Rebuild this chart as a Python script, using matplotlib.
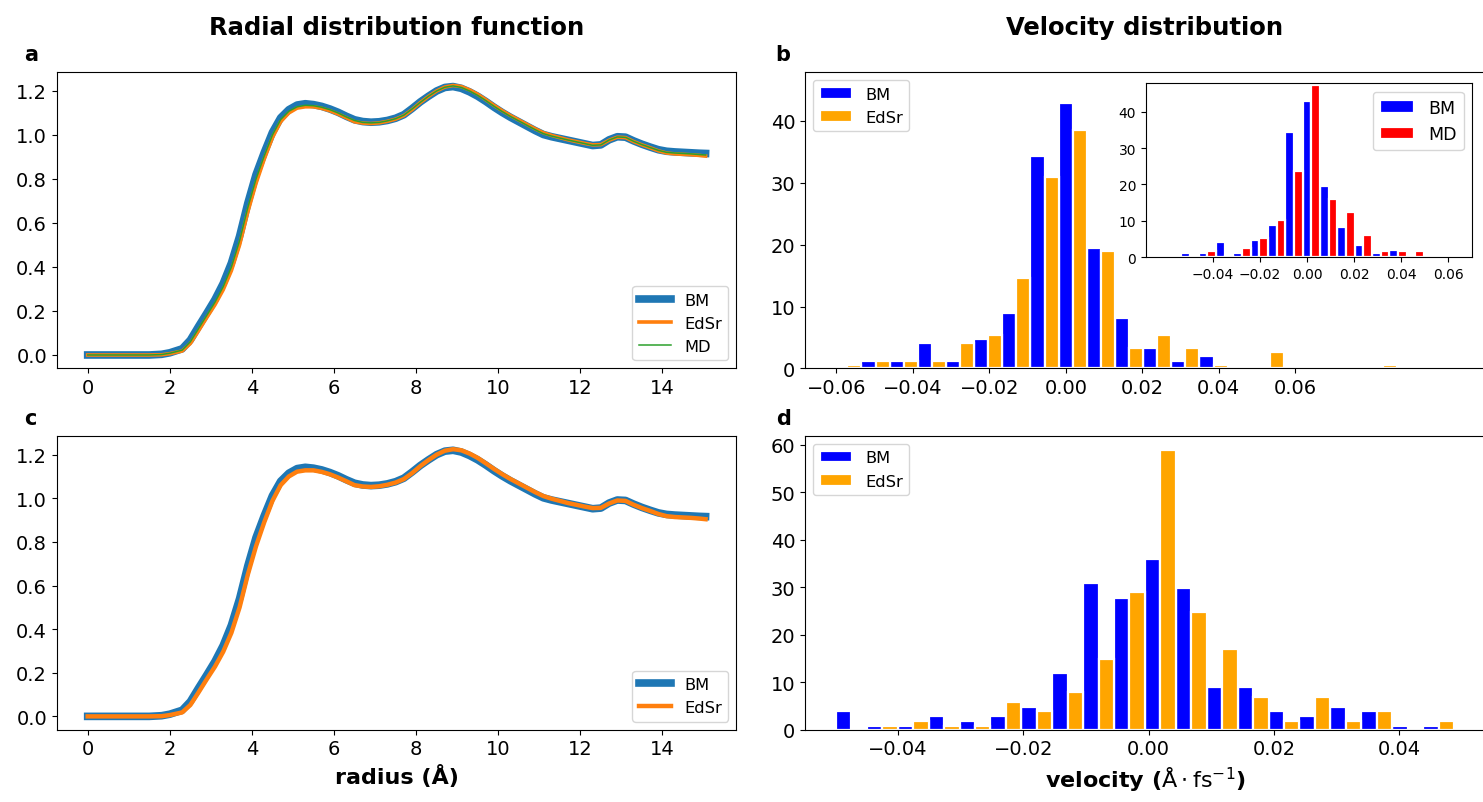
import numpy as np
import matplotlib.pyplot as plt

# radial distribution function g(r)
radius = [0.0, 0.5, 1.0, 1.5, 1.8, 2.0, 2.3, 2.5, 2.7, 2.9,
          3.1, 3.3, 3.5, 3.7, 3.9, 4.1, 4.3, 4.5, 4.7, 4.9,
          5.1, 5.3, 5.5, 5.7, 5.9, 6.1, 6.3, 6.5, 6.7, 6.9,
          7.1, 7.3, 7.5, 7.7, 7.9, 8.1, 8.3, 8.5, 8.7, 8.9,
          9.1, 9.3, 9.5, 9.7, 9.9, 10.1, 10.3, 10.5, 10.7, 10.9,
          11.1, 11.3, 11.5, 11.7, 11.9, 12.1, 12.3, 12.5, 12.7, 12.9,
          13.1, 13.3, 13.5, 13.7, 13.9, 14.1, 14.3, 14.5, 14.7, 14.9, 15.05]
rdf_bm = [0.000, 0.000, 0.000, 0.000, 0.003, 0.010, 0.028, 0.068, 0.130, 0.190,
          0.252, 0.325, 0.418, 0.540, 0.690, 0.820, 0.920, 1.012, 1.078, 1.115,
          1.136, 1.142, 1.138, 1.130, 1.118, 1.103, 1.085, 1.069, 1.061, 1.058,
          1.060, 1.066, 1.076, 1.092, 1.120, 1.150, 1.176, 1.200, 1.216, 1.220,
          1.212, 1.196, 1.176, 1.152, 1.126, 1.102, 1.080, 1.060, 1.040, 1.020,
          1.002, 0.992, 0.984, 0.976, 0.968, 0.960, 0.952, 0.955, 0.978, 0.992,
          0.990, 0.973, 0.958, 0.945, 0.933, 0.926, 0.923, 0.921, 0.919, 0.917, 0.916]
rdf_edsr = [0.000, 0.000, 0.000, 0.000, 0.001, 0.006, 0.018, 0.052, 0.110, 0.170,
            0.228, 0.296, 0.383, 0.500, 0.650, 0.780, 0.890, 0.988, 1.060, 1.100,
            1.122, 1.128, 1.128, 1.121, 1.110, 1.095, 1.078, 1.060, 1.054, 1.052,
            1.055, 1.062, 1.072, 1.088, 1.115, 1.147, 1.175, 1.200, 1.218, 1.225,
            1.220, 1.205, 1.185, 1.160, 1.134, 1.110, 1.088, 1.068, 1.048, 1.028,
            1.010, 0.998, 0.988, 0.978, 0.970, 0.962, 0.955, 0.956, 0.976, 0.990,
            0.988, 0.970, 0.955, 0.942, 0.928, 0.918, 0.914, 0.912, 0.910, 0.907, 0.904]
rdf_md = [0.000, 0.000, 0.000, 0.000, 0.002, 0.008, 0.022, 0.060, 0.120, 0.180,
          0.240, 0.310, 0.400, 0.520, 0.670, 0.800, 0.905, 1.000, 1.070, 1.108,
          1.128, 1.135, 1.133, 1.126, 1.115, 1.100, 1.082, 1.066, 1.057, 1.055,
          1.057, 1.064, 1.074, 1.090, 1.118, 1.148, 1.176, 1.200, 1.217, 1.223,
          1.216, 1.200, 1.180, 1.156, 1.130, 1.106, 1.084, 1.064, 1.044, 1.024,
          1.006, 0.995, 0.986, 0.977, 0.969, 0.961, 0.953, 0.955, 0.977, 0.991,
          0.989, 0.971, 0.956, 0.943, 0.930, 0.921, 0.918, 0.916, 0.914, 0.911, 0.909]

# velocity histograms, 20 bins each
vel_range_b = (-0.0608, 0.0865)
hist_b_bm = [0, 1.13, 1.13, 4.04, 1.13, 4.68, 8.94, 34.4, 42.9, 19.5,
             8.2, 3.3, 1.13, 1.94, 0, 0, 0, 0, 0, 0]
hist_b_edsr = [0.48, 1.13, 1.13, 1.13, 4.04, 5.44, 14.6, 30.9, 38.6, 18.9,
               3.3, 5.44, 3.3, 0.48, 0, 2.6, 0, 0, 0, 0.48]
hist_b_md = [0, 0.3, 1.65, 0.3, 2.5, 5.3, 10.3, 23.8, 47.3, 16.0,
             12.4, 6.0, 1.75, 1.75, 1.75, 0, 0, 0, 0, 0]

vel_range_d = (-0.0499, 0.0487)
hist_d_bm = [3.85, 0.85, 0.85, 2.9, 1.8, 2.9, 4.8, 11.9, 30.8, 27.8,
             35.9, 29.8, 8.9, 8.9, 3.85, 2.87, 4.8, 3.85, 0.85, 0.85]
hist_d_edsr = [0, 0.85, 1.8, 0.85, 0.85, 5.9, 3.85, 7.9, 14.85, 28.9,
               58.9, 24.8, 16.9, 6.85, 1.8, 6.85, 1.8, 3.85, 0, 1.8]

plt.rcParams['font.size'] = 14

fig = plt.figure(figsize=(14.83, 8.03), dpi=100)
ax_a = fig.add_axes([0.0383, 0.5399, 0.4583, 0.3692])
ax_c = fig.add_axes([0.0383, 0.0900, 0.4583, 0.3660])
ax_b = fig.add_axes([0.5428, 0.5399, 0.4585, 0.3692])
ax_d = fig.add_axes([0.5428, 0.0900, 0.4585, 0.3660])
ax_in = fig.add_axes([0.7726, 0.6787, 0.2202, 0.2167])


def hist_pair(ax, vrange, first, second, colors, labels):
    edges = np.linspace(vrange[0], vrange[1], len(first) + 1)
    centers = (edges[:-1] + edges[1:]) / 2
    ax.hist([centers, centers], bins=edges, weights=[first, second],
            color=colors, label=labels, rwidth=1.0,
            edgecolor='white', linewidth=1.6)


# RDF panels
ax_a.plot(radius, rdf_bm, lw=5.5, label='BM')
ax_a.plot(radius, rdf_edsr, lw=2.6, label='EdSr')
ax_a.plot(radius, rdf_md, lw=1.1, label='MD')
ax_a.legend(loc='lower right', fontsize='small')

ax_c.plot(radius, rdf_bm, lw=5.5, label='BM')
ax_c.plot(radius, rdf_edsr, lw=3.2, label='EdSr')
ax_c.legend(loc='lower right', fontsize='small')
ax_c.set_xlabel('radius (Å)', fontweight='bold', fontsize=16)

# velocity panels
hist_pair(ax_b, vel_range_b, hist_b_bm, hist_b_edsr, ['blue', 'orange'], ['BM', 'EdSr'])
ax_b.set_xlim(-0.0682, 0.1096)
ax_b.set_ylim(0, 47.9)
ax_b.set_xticks([-0.06, -0.04, -0.02, 0.0, 0.02, 0.04, 0.06])
ax_b.legend(loc='upper left', fontsize='small')

hist_pair(ax_in, vel_range_b, hist_b_bm, hist_b_md, ['blue', 'red'], ['BM', 'MD'])
ax_in.set_xlim(-0.0686, 0.0703)
ax_in.set_ylim(0, 47.9)
ax_in.set_xticks([-0.04, -0.02, 0.0, 0.02, 0.04, 0.06])
ax_in.set_yticks([0, 10, 20, 30, 40])
ax_in.tick_params(labelsize=10)
ax_in.legend(loc='upper right', fontsize=12.5)

hist_pair(ax_d, vel_range_d, hist_d_bm, hist_d_edsr, ['blue', 'orange'], ['BM', 'EdSr'])
ax_d.legend(loc='upper left', fontsize='small')
ax_d.set_xlabel(r'velocity ($\mathrm{\AA \cdot fs^{-1}}$)', fontweight='bold', fontsize=16)

ax_a.set_title('Radial distribution function', fontweight='bold', fontsize=17.5, pad=27)
ax_b.set_title('Velocity distribution', fontweight='bold', fontsize=17.5, pad=27)

for ax, letter, dx in [(ax_a, 'a', -0.048), (ax_c, 'c', -0.048),
                       (ax_b, 'b', -0.043), (ax_d, 'd', -0.043)]:
    ax.text(dx, 1.04, letter, transform=ax.transAxes, fontsize=15,
            fontweight='bold', ha='left', va='baseline')

fig.savefig('out.png', dpi=100)
